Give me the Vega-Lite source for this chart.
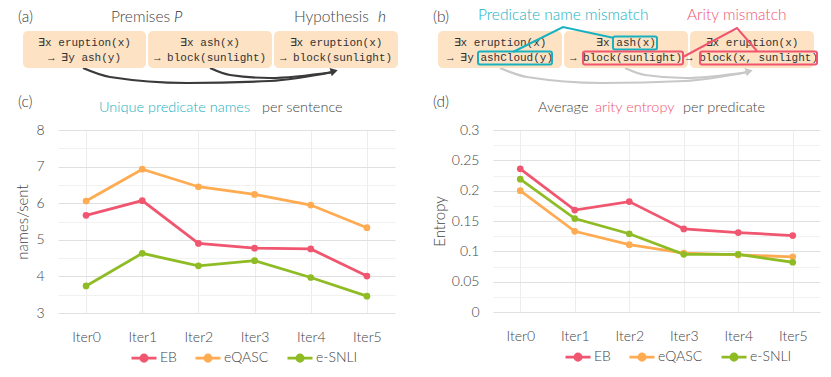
{
  "$schema": "https://vega.github.io/schema/vega-lite/v6.json",
  "padding": 0,
  "bounds": "flush",
  "spacing": 0,
  "resolve": {"scale": {"color": "independent"}, "legend": {"color": "independent"}},
  "config": {"view": {"stroke": null}, "font": "Lato", "text": {"fontWeight": 300}, "axis": {"labelFontWeight": 300, "titleFontWeight": 300}, "legend": {"labelFontWeight": 300}},
  "datasets": {
    "canvas": [{"x": 0, "x2": 831, "y": 0, "y2": 130}],
    "boxes": [
      {"panel": "a", "x": 23, "x2": 146, "y": 31, "y2": 68},
      {"panel": "a", "x": 148, "x2": 272, "y": 31, "y2": 68},
      {"panel": "a", "x": 274, "x2": 398, "y": 31, "y2": 68},
      {"panel": "b", "x": 438, "x2": 562, "y": 31, "y2": 68},
      {"panel": "b", "x": 564, "x2": 688, "y": 31, "y2": 68},
      {"panel": "b", "x": 690, "x2": 814, "y": 31, "y2": 68}
    ],
    "highlights": [
      {"kind": "cyan", "x": 478, "x2": 552, "y": 51.5, "y2": 64.5},
      {"kind": "cyan", "x": 613, "x2": 657, "y": 36.5, "y2": 49.5},
      {"kind": "pink", "x": 583, "x2": 683, "y": 51.5, "y2": 64.5},
      {"kind": "pink", "x": 700, "x2": 817, "y": 51.5, "y2": 64.5}
    ],
    "formulas": [
      {"x": 84.5, "y": 43, "t": "∃x eruption(x)"},
      {"x": 84.5, "y": 58, "t": "→ ∃y ash(y)"},
      {"x": 210, "y": 43, "t": "∃x ash(x)"},
      {"x": 210, "y": 58, "t": "→ block(sunlight)"},
      {"x": 336, "y": 43, "t": "∃x eruption(x)"},
      {"x": 336, "y": 58, "t": "→ block(sunlight)"},
      {"x": 500, "y": 43, "t": "∃x eruption(x)"},
      {"x": 500, "y": 58, "t": "→ ∃y ashCloud(y)"},
      {"x": 626, "y": 43, "t": "∃x ash(x)"},
      {"x": 626, "y": 58, "t": "→ block(sunlight)"},
      {"x": 752, "y": 43, "t": "∃x eruption(x)"},
      {"x": 752, "y": 58, "t": "→ block(x, sunlight)"}
    ],
    "connectors": [
      {"kind": "cyan", "seg": "c1", "o": 1, "x": 513, "y": 52},
      {"kind": "cyan", "seg": "c1", "o": 2, "x": 563, "y": 27},
      {"kind": "cyan", "seg": "c1", "o": 3, "x": 614, "y": 38},
      {"kind": "pink", "seg": "p1", "o": 1, "x": 683, "y": 57},
      {"kind": "pink", "seg": "p1", "o": 2, "x": 737, "y": 28},
      {"kind": "pink", "seg": "p1", "o": 3, "x": 757, "y": 51}
    ],
    "arrowsA": [
      {"seg": "a1", "o": 1, "x": 83, "y": 68},
      {"seg": "a1", "o": 2, "x": 110, "y": 77},
      {"seg": "a1", "o": 3, "x": 187, "y": 83},
      {"seg": "a1", "o": 4, "x": 270, "y": 81},
      {"seg": "a1", "o": 5, "x": 333, "y": 72},
      {"seg": "a2", "o": 1, "x": 210, "y": 68},
      {"seg": "a2", "o": 2, "x": 230, "y": 75},
      {"seg": "a2", "o": 3, "x": 270, "y": 78},
      {"seg": "a2", "o": 4, "x": 333, "y": 72}
    ],
    "arrowsB": [
      {"seg": "b1", "o": 1, "x": 500, "y": 68},
      {"seg": "b1", "o": 2, "x": 527, "y": 77},
      {"seg": "b1", "o": 3, "x": 602, "y": 83},
      {"seg": "b1", "o": 4, "x": 685, "y": 81},
      {"seg": "b1", "o": 5, "x": 748, "y": 72},
      {"seg": "b2", "o": 1, "x": 625, "y": 68},
      {"seg": "b2", "o": 2, "x": 645, "y": 75},
      {"seg": "b2", "o": 3, "x": 685, "y": 78},
      {"seg": "b2", "o": 4, "x": 748, "y": 72}
    ],
    "headsA": [{"x": 333, "y": 71.5}],
    "headsB": [{"x": 748, "y": 71.5}],
    "labels": [
      {"kind": "dark", "x": 18, "y": 17, "t": "(a)"},
      {"kind": "grey", "x": 111, "y": 17, "t": "Premises"},
      {"kind": "grey", "x": 294, "y": 17, "t": "Hypothesis"},
      {"kind": "dark", "x": 433, "y": 17, "t": "(b)"},
      {"kind": "cyan", "x": 478, "y": 15, "t": "Predicate name mismatch"},
      {"kind": "pink", "x": 687, "y": 15, "t": "Arity mismatch"},
      {"kind": "dark", "x": 18, "y": 102, "t": "(c)"},
      {"kind": "dark", "x": 433, "y": 102, "t": "(d)"}
    ],
    "titles": [
      {"kind": "cyan", "x": 99, "y": 108, "t": "Unique predicate names"},
      {"kind": "grey", "x": 262, "y": 108, "t": "per sentence"},
      {"kind": "grey", "x": 538, "y": 108, "t": "Average"},
      {"kind": "pink", "x": 595, "y": 108, "t": "arity entropy"},
      {"kind": "grey", "x": 683, "y": 108, "t": "per predicate"}
    ],
    "italics": [
      {"kind": "grey", "x": 174, "y": 17, "t": "P"},
      {"kind": "grey", "x": 378, "y": 17, "t": "h"}
    ],
    "series": [
      {"iter": "Iter0", "ds": "EB", "names": 5.67, "entropy": 0.236},
      {"iter": "Iter1", "ds": "EB", "names": 6.07, "entropy": 0.168},
      {"iter": "Iter2", "ds": "EB", "names": 4.9, "entropy": 0.182},
      {"iter": "Iter3", "ds": "EB", "names": 4.77, "entropy": 0.137},
      {"iter": "Iter4", "ds": "EB", "names": 4.75, "entropy": 0.131},
      {"iter": "Iter5", "ds": "EB", "names": 4.01, "entropy": 0.126},
      {"iter": "Iter0", "ds": "eQASC", "names": 6.06, "entropy": 0.2},
      {"iter": "Iter1", "ds": "eQASC", "names": 6.93, "entropy": 0.133},
      {"iter": "Iter2", "ds": "eQASC", "names": 6.45, "entropy": 0.111},
      {"iter": "Iter3", "ds": "eQASC", "names": 6.24, "entropy": 0.097},
      {"iter": "Iter4", "ds": "eQASC", "names": 5.95, "entropy": 0.094},
      {"iter": "Iter5", "ds": "eQASC", "names": 5.33, "entropy": 0.091},
      {"iter": "Iter0", "ds": "e-SNLI", "names": 3.74, "entropy": 0.219},
      {"iter": "Iter1", "ds": "e-SNLI", "names": 4.63, "entropy": 0.154},
      {"iter": "Iter2", "ds": "e-SNLI", "names": 4.29, "entropy": 0.129},
      {"iter": "Iter3", "ds": "e-SNLI", "names": 4.43, "entropy": 0.095},
      {"iter": "Iter4", "ds": "e-SNLI", "names": 3.97, "entropy": 0.095},
      {"iter": "Iter5", "ds": "e-SNLI", "names": 3.46, "entropy": 0.082}
    ]
  },
  "vconcat": [
    {
      "width": 773,
      "height": 130,
      "encoding": {
        "x": {"type": "quantitative", "scale": {"domain": [58, 831], "nice": false, "zero": false}, "axis": null},
        "y": {"type": "quantitative", "scale": {"domain": [0, 130], "nice": false, "reverse": true}, "axis": null}
      },
      "layer": [
        {
          "data": {"name": "canvas"},
          "mark": {"type": "rect", "fill": "#ffffff"},
          "encoding": {"x": {"field": "x", "type": "quantitative"}, "x2": {"field": "x2"}, "y": {"field": "y", "type": "quantitative"}, "y2": {"field": "y2"}}
        },
        {
          "data": {"name": "arrowsA"},
          "mark": {"type": "line", "interpolate": "monotone", "strokeWidth": 2.2, "color": "#3a3a3a"},
          "encoding": {"x": {"field": "x", "type": "quantitative"}, "y": {"field": "y", "type": "quantitative"}, "detail": {"field": "seg"}, "order": {"field": "o"}}
        },
        {
          "data": {"name": "headsA"},
          "mark": {"type": "point", "shape": "triangle", "angle": 76, "filled": true, "size": 70, "color": "#3a3a3a", "opacity": 1},
          "encoding": {"x": {"field": "x", "type": "quantitative"}, "y": {"field": "y", "type": "quantitative"}}
        },
        {
          "data": {"name": "arrowsB"},
          "mark": {"type": "line", "interpolate": "monotone", "strokeWidth": 2.2, "color": "#c8c8c8"},
          "encoding": {"x": {"field": "x", "type": "quantitative"}, "y": {"field": "y", "type": "quantitative"}, "detail": {"field": "seg"}, "order": {"field": "o"}}
        },
        {
          "data": {"name": "headsB"},
          "mark": {"type": "point", "shape": "triangle", "angle": 76, "filled": true, "size": 70, "color": "#c8c8c8", "opacity": 1},
          "encoding": {"x": {"field": "x", "type": "quantitative"}, "y": {"field": "y", "type": "quantitative"}}
        },
        {
          "data": {"name": "boxes"},
          "mark": {"type": "rect", "fill": "#fde2c3", "cornerRadius": 5},
          "encoding": {"x": {"field": "x", "type": "quantitative"}, "x2": {"field": "x2"}, "y": {"field": "y", "type": "quantitative"}, "y2": {"field": "y2"}}
        },
        {
          "data": {"name": "formulas"},
          "mark": {"type": "text", "font": "Liberation Mono", "fontSize": 11, "fontWeight": "normal", "align": "center", "baseline": "middle", "color": "#333333"},
          "encoding": {"x": {"field": "x", "type": "quantitative"}, "y": {"field": "y", "type": "quantitative"}, "text": {"field": "t"}}
        },
        {
          "data": {"name": "highlights"},
          "mark": {"type": "rect", "filled": false, "strokeWidth": 2, "cornerRadius": 2},
          "encoding": {
            "x": {"field": "x", "type": "quantitative"}, "x2": {"field": "x2"},
            "y": {"field": "y", "type": "quantitative"}, "y2": {"field": "y2"},
            "color": {"field": "kind", "type": "nominal", "scale": {"domain": ["dark", "grey", "cyan", "pink"], "range": ["#3a3a3a", "#444444", "#19b1c0", "#f0556f"]}, "legend": null}
          }
        },
        {
          "data": {"name": "connectors"},
          "mark": {"type": "line", "strokeWidth": 2},
          "encoding": {
            "x": {"field": "x", "type": "quantitative"}, "y": {"field": "y", "type": "quantitative"},
            "detail": {"field": "seg"}, "order": {"field": "o"},
            "color": {"field": "kind", "type": "nominal", "scale": {"domain": ["dark", "grey", "cyan", "pink"], "range": ["#3a3a3a", "#444444", "#19b1c0", "#f0556f"]}, "legend": null}
          }
        },
        {
          "data": {"name": "labels"},
          "mark": {"type": "text", "fontSize": 15.5, "align": "left", "baseline": "middle"},
          "encoding": {
            "x": {"field": "x", "type": "quantitative"}, "y": {"field": "y", "type": "quantitative"}, "text": {"field": "t"},
            "color": {"field": "kind", "type": "nominal", "scale": {"domain": ["dark", "grey", "cyan", "pink"], "range": ["#3a3a3a", "#444444", "#19b1c0", "#f0556f"]}, "legend": null}
          }
        },
        {
          "data": {"name": "titles"},
          "mark": {"type": "text", "fontSize": 14.5, "align": "left", "baseline": "middle"},
          "encoding": {
            "x": {"field": "x", "type": "quantitative"}, "y": {"field": "y", "type": "quantitative"}, "text": {"field": "t"},
            "color": {"field": "kind", "type": "nominal", "scale": {"domain": ["dark", "grey", "cyan", "pink"], "range": ["#3a3a3a", "#444444", "#19b1c0", "#f0556f"]}, "legend": null}
          }
        },
        {
          "data": {"name": "italics"},
          "mark": {"type": "text", "fontSize": 15.5, "fontStyle": "italic", "align": "left", "baseline": "middle", "color": "#333333"},
          "encoding": {"x": {"field": "x", "type": "quantitative"}, "y": {"field": "y", "type": "quantitative"}, "text": {"field": "t"}}
        }
      ]
    },
    {
      "hconcat": [
        {
          "width": 337,
          "height": 183,
          "data": {"name": "series"},
          "mark": {"type": "line", "strokeWidth": 2.8, "point": {"filled": true, "size": 45}},
          "encoding": {
            "x": {"field": "iter", "type": "ordinal", "scale": {"type": "point", "padding": 0.5},
              "axis": {"title": null, "labelAngle": 0, "labelFontSize": 14, "labelColor": "#444444", "labelPadding": 17, "ticks": false, "domain": false, "grid": true, "gridColor": "#ececec"}},
            "y": {"field": "names", "type": "quantitative", "scale": {"domain": [3, 8], "nice": false},
              "axis": {"title": "names/sent", "values": [3, 3.5, 4, 4.5, 5, 5.5, 6, 6.5, 7, 7.5, 8],
                "labelExpr": "datum.value % 1 === 0 ? format(datum.value, 'd') : ''",
                "gridColor": {"condition": {"test": "datum.value % 1 === 0", "value": "#e0e0e0"}, "value": "#f1f1f1"},
                "labelFontSize": 14, "labelColor": "#444444", "labelPadding": 14, "ticks": false, "domain": false,
                "titleFontSize": 15, "titleColor": "#444444", "titlePadding": 5}},
            "color": {"field": "ds", "type": "nominal", "scale": {"domain": ["EB", "eQASC", "e-SNLI"], "range": ["#f0566f", "#ffab52", "#8fbc25"]},
              "legend": {"orient": "none", "legendX": 72, "legendY": 214, "direction": "horizontal", "title": null, "labelFontSize": 14, "labelColor": "#444444",
                "symbolType": "M-1,0L1,0M0.25,0A0.25,0.25,0,1,1,-0.25,0A0.25,0.25,0,1,1,0.25,0", "symbolSize": 625, "symbolStrokeWidth": 2.8,
                "labelOffset": 2, "columnPadding": 12,
                "encode": {"symbols": {"update": {"fill": {"scale": "color", "field": "value"}}}}}}
          }
        },
        {
          "width": 327,
          "height": 182,
          "data": {"name": "series"},
          "mark": {"type": "line", "strokeWidth": 2.8, "point": {"filled": true, "size": 45}},
          "encoding": {
            "x": {"field": "iter", "type": "ordinal", "scale": {"type": "point", "padding": 0.5},
              "axis": {"title": null, "labelAngle": 0, "labelFontSize": 14, "labelColor": "#444444", "labelPadding": 17, "ticks": false, "domain": false, "grid": true, "gridColor": "#ececec"}},
            "y": {"field": "entropy", "type": "quantitative", "scale": {"domain": [0, 0.3], "nice": false},
              "axis": {"title": "Entropy", "values": [0, 0.025, 0.05, 0.075, 0.1, 0.125, 0.15, 0.175, 0.2, 0.225, 0.25, 0.275, 0.3],
                "labelExpr": "abs(datum.value * 20 - round(datum.value * 20)) < 0.000001 ? format(datum.value, '~g') : ''",
                "gridColor": {"condition": {"test": "abs(datum.value * 20 - round(datum.value * 20)) < 0.000001", "value": "#e0e0e0"}, "value": "#f1f1f1"},
                "labelFontSize": 14, "labelColor": "#444444", "labelPadding": 14, "ticks": false, "domain": false,
                "titleFontSize": 15, "titleColor": "#444444", "titlePadding": 4}},
            "color": {"field": "ds", "type": "nominal", "scale": {"domain": ["EB", "eQASC", "e-SNLI"], "range": ["#f0566f", "#ffab52", "#8fbc25"]},
              "legend": {"orient": "none", "legendX": 71, "legendY": 213, "direction": "horizontal", "title": null, "labelFontSize": 14, "labelColor": "#444444",
                "symbolType": "M-1,0L1,0M0.25,0A0.25,0.25,0,1,1,-0.25,0A0.25,0.25,0,1,1,0.25,0", "symbolSize": 625, "symbolStrokeWidth": 2.8,
                "labelOffset": 2, "columnPadding": 12,
                "encode": {"symbols": {"update": {"fill": {"scale": "color", "field": "value"}}}}}}
          }
        }
      ],
      "spacing": 98,
      "bounds": "flush",
      "resolve": {"scale": {"color": "independent"}, "legend": {"color": "independent"}}
    }
  ]
}
